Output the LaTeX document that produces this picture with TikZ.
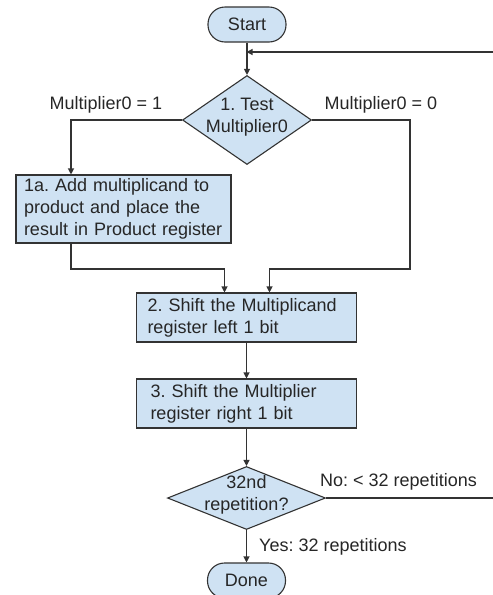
\documentclass[tikz,border=0pt]{standalone}
\usepackage{fontspec}
\setmainfont{Liberation Sans}
\frenchspacing
\usetikzlibrary{shapes.geometric,arrows.meta,calc}
\definecolor{boxfill}{HTML}{CFE2F3}
\definecolor{linec}{HTML}{333333}
\definecolor{textc}{HTML}{262626}
\begin{document}
\begin{tikzpicture}[x=1pt,y=-1pt,
  every node/.style={font=\fontsize{18}{22}\selectfont,text=textc},
  terminal/.style={draw=linec,line width=1.1pt,fill=boxfill,rounded corners=17pt,minimum width=78pt,minimum height=35pt,inner sep=0pt},
  procbox/.style={draw=linec,line width=1.1pt,fill=boxfill,align=left,inner ysep=0pt},
  decision/.style={draw=linec,line width=1.1pt,fill=boxfill,diamond,inner sep=0pt},
  conn/.style={draw=linec,line width=1.1pt},
  arr/.style={conn,-{Triangle[length=6pt,width=6pt]}},
  lbl/.style={inner sep=0pt}
]
\useasboundingbox (0,0) rectangle (493,595);
% nodes
\node[terminal] (start) at (247,24.5) {Start};
\node[decision,minimum width=129pt,minimum height=89pt,
  label={[lbl,align=center,yshift=3pt]center:1. Test\\Multiplier0}] (d1) at (247,120) {};
\node[procbox,minimum height=68pt,text width=199pt,inner xsep=8pt] (b1) at (123.5,209)
  {1a. Add multiplicand to\\product and place the\\result in Product register};
\node[procbox,minimum height=49pt,text width=198pt,inner xsep=11pt] (b2) at (246.5,317.5)
  {2. Shift the Multiplicand\\register left 1 bit};
\node[procbox,minimum height=49pt,text width=192pt,inner xsep=14pt] (b3) at (246.5,403.5)
  {3. Shift the Multiplier\\register right 1 bit};
\node[decision,minimum width=158pt,minimum height=63pt,
  label={[lbl,align=center,yshift=3pt]center:32nd\\repetition?}] (d2) at (246.5,498) {};
\node[terminal] (done) at (246.5,580.5) {Done};
% labels
\node[lbl] (l1) at (106,105) {Multiplier0 = 1};
\node[lbl] (l0) at (381,105) {Multiplier0 = 0};
\node[lbl,anchor=west] (lno) at (320,482) {No: < 32 repetitions};
\node[lbl,anchor=west] (lyes) at (259,547) {Yes: 32 repetitions};
% coordinates
\coordinate (j) at (246.5,52);
\coordinate (fr) at (496,52);
\coordinate (rr) at (410,269);
\coordinate (ll) at (71,269);
% connectors
\draw[arr] (start.south -| d1.north) -- (d1.north);
\draw[arr] (d1.west) -| ([xshift=-52.5pt]b1.north);
\draw[arr] ([xshift=-52.5pt]b1.south) -- (ll) -| ([xshift=-22pt]b2.north);
\draw[arr] (d1.east) -| (rr) -| ([xshift=23pt]b2.north);
\draw[arr] (b2.south) -- (b3.north);
\draw[arr] (b3.south) -- (d2.north);
\draw[arr] (d2.south) -- (done.north);
\draw[arr] (d2.east) -| (fr) -- (j);
\end{tikzpicture}
\end{document}
